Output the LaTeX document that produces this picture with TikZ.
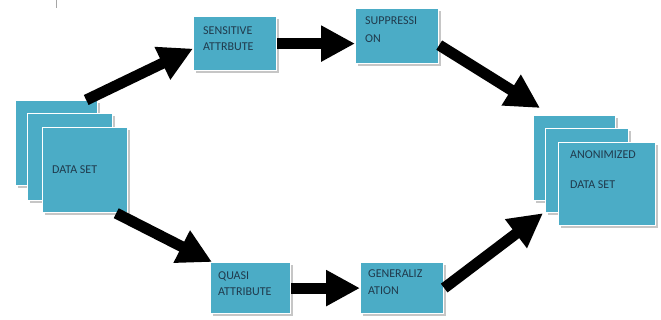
\documentclass[tikz,border=0pt]{standalone}
\usepackage{fontspec}
\setmainfont{Carlito}
\usetikzlibrary{arrows.meta,shadows}
\definecolor{boxblue}{HTML}{4BACC6}
\definecolor{lbltext}{HTML}{203A4C}
\tikzset{
  blkbox/.style={draw=white, line width=1.2pt, fill=boxblue, anchor=north west,
    inner sep=0pt, general shadow={fill=gray!45, shadow xshift=2.5pt, shadow yshift=-2.5pt}},
  lbl/.style={anchor=north west, inner sep=0pt, align=left, text=lbltext,
    font=\fontsize{12}{16}\selectfont},
  bigarrow/.style={line width=11pt, -{Triangle[length=34pt,width=34pt]}}
}
\begin{document}
\begin{tikzpicture}[x=1pt,y=-1pt]
    \useasboundingbox (0,0) rectangle (661,320);
    \draw[gray!70, line width=1pt] (56,0) -- (56,8);
    % data set stack
    \node[blkbox, minimum width=82pt, minimum height=85pt] (data1) at (15,100) {};
    \node[blkbox, minimum width=85pt, minimum height=87pt] (data2) at (27,113) {};
    \node[blkbox, minimum width=85pt, minimum height=85pt] (data3) at (42,127) {};
    \node[lbl] (dataT) at ([xshift=10pt,yshift=-39pt]data3.north west) {DATA SET};
    % upper row
    \node[blkbox, minimum width=83pt, minimum height=54pt] (sens) at (193,16) {};
    \node[lbl] (sensT) at ([xshift=10pt,yshift=-11pt]sens.north west) {SENSITIVE\\ATTRBUTE};
    \node[blkbox, minimum width=83pt, minimum height=55pt] (supp) at (355,8) {};
    \node[lbl, font=\fontsize{12}{18}\selectfont] (suppT) at ([xshift=10pt,yshift=-9pt]supp.north west) {SUPPRESSI\\ON};
    % lower row
    \node[blkbox, minimum width=80pt, minimum height=51pt] (quasi) at (210,262) {};
    \node[lbl] (quasiT) at ([xshift=8pt,yshift=-10pt]quasi.north west) {QUASI\\ATTRIBUTE};
    \node[blkbox, minimum width=83pt, minimum height=51pt] (gen) at (360,262) {};
    \node[lbl, font=\fontsize{12}{17}\selectfont] (genT) at ([xshift=8pt,yshift=-8pt]gen.north west) {GENERALIZ\\ATION};
    % anonimized stack
    \node[blkbox, minimum width=82pt, minimum height=85pt] (anon1) at (533,115) {};
    \node[blkbox, minimum width=83pt, minimum height=84pt] (anon2) at (545,128) {};
    \node[blkbox, minimum width=97pt, minimum height=83pt] (anon3) at (558,142) {};
    \node[lbl, font=\fontsize{12}{30}\selectfont] (anonT) at ([xshift=12pt,yshift=-9pt]anon3.north west) {ANONIMIZED\\DATA SET};
    % arrows
    \draw[bigarrow] ([xshift=-12pt]data1.north east) -- ([yshift=-5pt]sens.west);
    \draw[bigarrow] (sens.east) -- (sens.east -| supp.west);
    \draw[bigarrow] ([yshift=-9pt]supp.east) -- ([xshift=7pt,yshift=7pt]anon1.north west);
    \draw[bigarrow] ([xshift=-12pt]data3.south east) -- ([xshift=2pt]quasi.north west);
    \draw[bigarrow] (quasi.east) -- (quasi.east -| gen.west);
    \draw[bigarrow] (gen.east) -- ([xshift=-2pt]anon2.south west);
\end{tikzpicture}
\end{document}
